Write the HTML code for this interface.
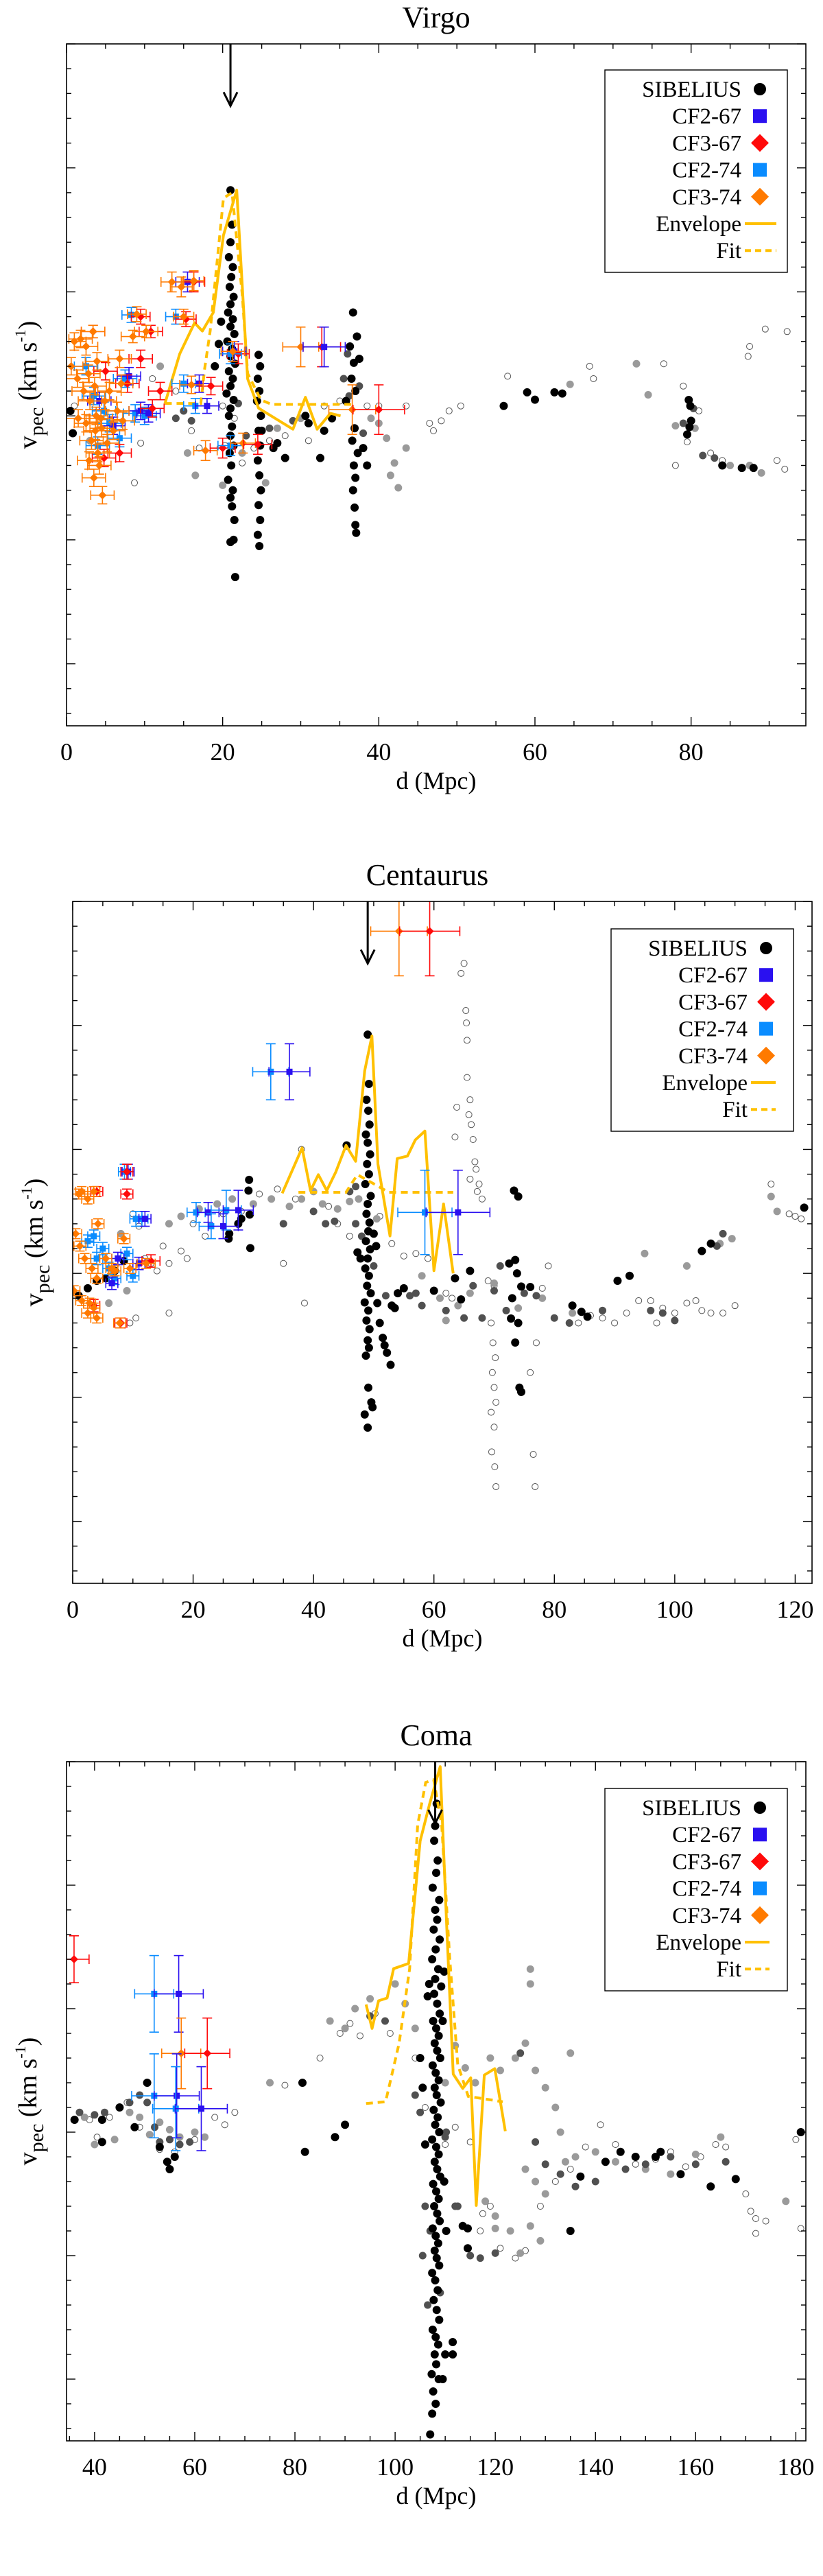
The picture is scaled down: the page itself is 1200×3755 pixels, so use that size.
<!DOCTYPE html>
<html><head><meta charset="utf-8">
<style>
html,body{margin:0;padding:0;background:#fff;}
svg{display:block;font-family:"Liberation Serif",serif;}
</style></head>
<body>
<svg id="fig" width="1200" height="3755" viewBox="0 0 1200 3755" xmlns="http://www.w3.org/2000/svg"></svg>
<script>
// ---------------- DATA ----------------
const virgoTicks=[0,20,40,60,80];
const centTicks=[0,20,40,60,80,100,120];
const comaTicks=[40,60,80,100,120,140,160,180];

const virgoBlack=[[21,910],[21.2,771],[21,700],[20.8,640],[21.3,600],[21.1,560],[20.9,520],[21.4,480],[21,450],[20.7,417],[21.3,390],[21,360],[21.5,330],[20.6,300],[21.2,270],[21,240],[21.6,210],[20.8,180],[21.3,150],[21,120],[20.5,90],[21.4,64],[21,30],[20.8,0],[21.2,-43],[21,-80],[21.4,-120],[20.9,-150],[21.1,-200],[20.7,-258],[21.3,-300],[21,-330],[21.2,-365],[21.5,-420],[21,-509],[21.4,-500],[21.6,-650],[24.6,246],[24.8,200],[24.5,150],[24.7,100],[24.4,60],[24.9,0],[24.6,-60],[24.8,-120],[24.5,-180],[24.7,-240],[24.9,-300],[24.6,-360],[24.8,-420],[24.5,-480],[24.7,-525],[36.7,417],[37.2,320],[36.3,280],[37.5,230],[36.8,214],[36.5,150],[37,100],[35.8,60],[36.9,-50],[36.6,-100],[37.3,-150],[36.8,-200],[37,-250],[36.7,-300],[36.9,-370],[37,-440],[37.1,-472],[38.5,-200],[38,-130],[34,-10],[30.6,0],[31,-30],[28,-170],[26.5,-130],[27,-110],[32.5,-170],[33,-60],[25,-60],[19.5,290],[19,200],[19.8,380],[56,40],[59,95],[60,65],[62.5,95],[63.5,90],[79.7,64],[79.9,40],[80,-20],[79.5,-75],[79.8,-45],[86.5,-210],[88,-210],[84,-200],[0.5,20],[0.8,-70]];
const virgoDark=[[36,250],[35.5,150],[37.5,120],[36.2,80],[38,-70],[15,20],[16,-20],[14,-10],[22,50],[23,-80],[26,-50],[29,-20],[80.3,30],[81.5,-160],[83,-170],[79,-30]];
const virgoGrey=[[10.5,20],[12,200],[15.5,-150],[16.5,-240],[20,-280],[22.5,-150],[25.5,-270],[27,-50],[30,-10],[39,-10],[40,-30],[41,-90],[42,-190],[41.5,-240],[42.5,-290],[43.5,-130],[64.5,127],[73,210],[74.5,85],[85,-200],[87.5,-200],[78,-40],[80.5,-50],[89,-230],[3,-100]];
const virgoOpen=[[1,40],[9.5,-110],[8.7,-270],[11,150],[14,100],[16,-60],[17,-130],[20,40],[21.5,-10],[20.3,-120],[22.5,-190],[24,-130],[26,-100],[28,-80],[31,-100],[33,40],[35,60],[38.5,40],[40,40],[43.5,40],[46.5,-30],[47,-60],[48,-20],[49,20],[50.5,40],[56.5,160],[67,200],[67.5,150],[76.5,210],[79,120],[79.5,-105],[78,-200],[84,-180],[87.5,280],[87.3,240],[89.5,350],[92.3,340],[92,-215],[91,-180],[81,20],[82.5,-150]];
// [d, v, dErr, vErr, type] type: 0 CF2-67, 1 CF3-67, 2 CF2-74, 3 CF3-74
const virgoCF=[[15.5,540,1.5,40,0],[16.3,540,1.4,40,1],[13.5,540,1.4,40,3],[14.7,520,1.4,40,3],[16.3,545,1.3,40,3],[8.3,407,1.2,30,2],[9.5,400,1.2,30,1],[9,410,1.2,30,3],[14,400,1.3,30,2],[15.3,390,1.3,30,1],[15,400,1.3,30,3],[3.4,340,1.5,25,1],[3.4,340,1.5,25,3],[10.8,340,1.5,25,1],[10.2,340,1.5,25,3],[8.5,320,1.5,25,3],[21.5,260,1.5,40,0],[22,250,1.4,40,1],[21,250,1.4,40,2],[21.3,260,1.5,40,3],[15,130,1.5,35,2],[17,130,1.5,35,0],[18.5,120,1.5,35,1],[16,125,1.5,35,3],[16.5,40,1.5,30,2],[18,40,1.5,30,0],[17.8,-140,1.5,40,3],[20,-130,1.6,40,1],[21,-120,1.6,40,2],[22.6,-110,1.6,40,3],[24.5,-115,1.8,40,1],[30,278,2.3,80,3],[32.7,278,2.4,80,1],[33,278,2.7,80,0],[36.6,25,3,100,3],[40,25,3.3,100,1],[2.5,200,1.5,35,2],[3.5,80,1.5,35,2],[4.8,20,1.5,35,2],[5.5,-30,1.5,35,2],[6.8,-90,1.5,35,2],[7.5,150,1.5,35,2],[8.8,10,1.5,35,2],[10,0,1.5,35,2],[4,-120,1.5,35,2],[4.2,60,1.5,35,0],[6,-40,1.5,35,0],[9.5,20,1.5,35,0],[10.5,10,1.5,35,0],[8,160,1.5,35,0],[5,180,1.5,35,1],[7.8,130,1.5,35,1],[9.5,230,1.5,35,1],[11,30,1.5,35,1],[12,100,1.5,35,1],[4.8,-170,1.5,35,1],[6.8,-150,1.5,35,1],[1,300,1.5,35,3],[1.8,310,1.5,35,3],[2.5,280,1.5,35,3],[0.6,200,1.5,35,3],[1.4,150,1.5,35,3],[2.2,100,1.5,35,3],[3,60,1.5,35,3],[3.8,0,1.5,35,3],[4.5,-50,1.5,35,3],[3.2,-100,1.5,35,3],[4,-150,1.5,35,3],[4.2,-200,1.5,35,3],[3.5,-250,1.5,35,3],[4.6,-320,1.5,35,3],[2.8,170,1.5,35,3],[3.6,120,1.5,35,3],[4.9,60,1.5,35,3],[5.5,100,1.5,35,3],[6.5,20,1.5,35,3],[7.2,-20,1.5,35,3],[6,-60,1.5,35,3],[2.5,-30,1.5,35,3],[1.5,-10,1.5,35,3],[3.9,220,1.5,35,3],[5.2,-110,1.5,35,3],[4.4,-10,1.5,35,3],[7,130,1.5,35,3],[6.8,230,1.5,35,3],[2.9,-180,1.5,35,3],[3.7,-60,1.5,35,3]];
const virgoEnvD=[12.6,14.5,16.4,17.4,18.8,20.1,21.8,23.2,24.6,29,30.6,32.1,33.8,35.1];
const virgoEnvV=[49,250,375,342,417,728,910,149,31,-54,75,-54,10,0];
const virgoFitD=[12.6,17.2,17.7,18.4,20.1,21.2,22.5,23.2,24.9,26.3,36.5];
const virgoFitV=[50,50,192,342,878,900,492,171,64,46,46];

const centBlack=[[49,963],[49.2,764],[48.8,700],[49.1,656],[49.3,600],[48.7,560],[49,527],[49.4,480],[48.9,441],[49.2,400],[48.6,360],[49.5,312],[49,280],[48.8,240],[49.3,205],[49.1,170],[48.7,130],[49.4,97],[49,60],[48.6,20],[49.2,-10],[48.9,-50],[49.5,-80],[48.5,-117],[49.1,-150],[48.8,-190],[49.3,-225],[49,-270],[48.7,-332],[49.2,-300],[49.1,-461],[48.5,-569],[49.6,-520],[49.8,-540],[49,-622],[47.3,85],[47.8,60],[50.6,-120],[51,-200],[51.5,-260],[52.2,-320],[52.8,-369],[51.8,-290],[53,-130],[53.5,-140],[45.5,516],[50,160],[50.4,110],[29.3,377],[29.2,334],[29.4,237],[29.5,102],[28,220],[27.5,200],[25.9,140],[26,160],[73.3,334],[74,310],[73.5,54],[72.5,40],[73.8,0],[74.5,-53],[73,-100],[72.8,-182],[74,-200],[73.5,-279],[74.2,-461],[74.5,-478],[76,-55],[83,-130],[84.5,-155],[85.5,-175],[90.5,-30],[92.5,-10],[104.5,90],[106,120],[121.5,265],[1,-90],[2.5,-60],[4,-30],[5.5,-20],[7,10],[8.5,50],[55,-60],[54,-80],[64.5,-105],[66,10],[63.5,-20],[60,-70]];
const centDark=[[47,200],[48,150],[50,30],[52,-90],[56,-90],[57,-80],[58,-130],[62,-150],[65,-180],[66.5,-50],[68,-180],[70,-70],[71,30],[72,-150],[75,-80],[77,-90],[80,-180],[82.5,-200],[88,-150],[96,-150],[98,-160],[107,110],[108,160],[100,-190],[47,350],[46,330],[40,250],[42,200],[43.5,210],[35,200]];
const centGrey=[[16,200],[18,230],[21,260],[24,280],[26.5,300],[30,280],[33,300],[36,270],[38,300],[40,330],[41.5,280],[44,260],[46,290],[47.5,300],[50.5,220],[58,-10],[61,-100],[62,-190],[64,-130],[66,-80],[70,-40],[74,-140],[78,-100],[83,-160],[88,-150],[95,80],[102,30],[107.5,120],[109.5,140],[116,310],[117,250],[6,-120],[9,-70],[8,160]];
const centOpen=[[22,150],[20,200],[18,90],[19,60],[16,40],[15,110],[25,240],[28,250],[31,320],[34,340],[35,40],[37,300],[38.5,-120],[38,500],[42.5,270],[44,200],[46,150],[51,230],[53,120],[55,70],[57,80],[59,60],[62,-80],[63,-100],[63.5,550],[63.8,670],[64.5,1210],[65,1250],[65.3,1060],[65.4,1010],[65.5,940],[65.5,790],[66,700],[65.8,640],[66.2,600],[66.5,540],[66,380],[67,420],[67.5,360],[66.8,450],[67.2,330],[68,300],[69,-30],[70,-50],[69.5,-200],[69.8,-280],[70.2,-340],[69.7,-400],[70,-460],[70.3,-520],[69.5,-560],[70,-620],[69.6,-720],[70.1,-780],[70.3,-860],[76.5,-730],[76.8,-860],[76,-400],[77,-280],[78,-60],[79,30],[84,-200],[86,-170],[88,-180],[90,-200],[92,-160],[94,-110],[96,-110],[97,-200],[98,-140],[100,-160],[102,-120],[103.5,-110],[104.5,-150],[106,-160],[108,-160],[110,-130],[116,360],[119,240],[120,230],[121,220],[10,240],[11,190],[10.5,-180],[9.5,-200],[13,40],[14,10],[12,60],[16,-160]];
const centCF=[[32.9,813,3,113,2],[36,813,3.4,113,0],[54.2,1380,4.7,180,3],[59.3,1380,5,180,1],[58.5,246,4.5,170,2],[64,246,5.3,170,0],[20.5,246,1.5,40,2],[22.5,246,1.8,40,0],[25.5,255,2.5,80,2],[27.5,255,2.5,80,0],[23,190,2,50,2],[25,190,2.5,50,0],[8.6,410,1,30,2],[9.2,410,1,30,0],[9,410,1,30,1],[9,320,1,20,1],[10.5,220,1,30,2],[11.5,220,1,30,2],[12,220,1,30,0],[2.5,130,1,25,2],[3.5,150,1,25,2],[5,100,1,25,2],[4,60,1,25,2],[6,20,1,25,2],[7,-20,1,25,2],[9,80,1,25,2],[10,-10,1,25,2],[7.5,60,1,25,0],[11,40,1,25,0],[6.5,-40,1,25,0],[4,330,1,20,1],[13,50,1.5,25,1],[3.5,-130,1,25,1],[8,-200,1,20,1],[1,320,1,20,3],[1.5,330,1,20,3],[3.5,330,1,20,3],[2.5,300,1,20,3],[4.2,200,1,20,3],[0.5,160,1,20,3],[1.2,110,1,20,3],[2,60,1,20,3],[3.2,20,1,20,3],[4,-20,1,20,3],[0.2,-70,1,20,3],[1.5,-110,1,20,3],[2.8,-120,1,20,3],[3.5,-140,1,20,3],[2.5,-160,1,20,3],[4,-180,1,20,3],[7.8,-200,1,20,3],[6.5,20,1,20,3],[5.5,60,1,20,3],[8.5,140,1,20,3],[9.5,20,1,20,3],[7,10,1,20,3],[12.2,40,1.5,20,3]];
const centEnvD=[34.8,38.1,39.5,40.8,42.2,43.7,45.4,47,48.5,49.7,50.7,52.7,53.9,55.6,56.9,58.5,60,61.6,63.2];
const centEnvV=[323,506,334,398,334,409,516,452,817,957,441,151,463,473,538,574,11,280,0];
const centFitD=[37.5,45.4,46.8,47.3,52.5,63.2];
const centFitV=[327,327,380,398,327,327];

const comaBlack=[[108.3,1330],[108,1240],[107.8,1180],[108.5,1100],[108.2,1050],[107.5,990],[108.8,940],[108,900],[108.4,860],[107.7,820],[108.9,780],[108.1,740],[107.4,700],[108.6,660],[108,620],[109.2,590],[107.8,560],[108.4,520],[108.9,480],[107.6,450],[108.2,420],[108.7,390],[107.9,360],[108.4,330],[109,300],[107.5,270],[108.1,240],[108.7,210],[107.9,180],[108.3,150],[109.1,120],[107.7,90],[108.5,60],[108,30],[108.8,0],[107.4,-30],[108.2,-60],[108.7,-90],[107.9,-120],[108.4,-150],[109,-180],[107.6,-210],[108.2,-240],[108.7,-270],[107.8,-300],[108.4,-330],[108.9,-360],[107.5,-390],[108.1,-420],[108.6,-450],[107.9,-480],[108.3,-510],[108.8,-540],[107.4,-570],[108,-600],[108.5,-640],[107.7,-680],[108.3,-720],[108.8,-760],[107.5,-800],[108.1,-830],[108.6,-860],[107.9,-900],[108.2,-940],[107.3,-980],[108.7,-1000],[107.6,-1050],[108.1,-1100],[107.4,-1140],[107,-1224],[109.5,-1000],[110,-900],[111.5,-850],[113.5,-380],[114.5,-390],[114.5,-470],[111.5,-900],[109.8,650],[109.5,450],[106.8,600],[106.5,550],[105.5,180],[105,300],[106,-50],[109.8,-200],[110.2,-400],[36,50],[41.5,50],[41.5,-40],[48,20],[53,-60],[54.5,-120],[55,-150],[56,-100],[88,-20],[90,30],[82,-80],[81.5,200],[135,-400],[137,-180],[142,-120],[148,-100],[152,-100],[153,-80],[157,-170],[163,-220],[168,-190],[181,0],[145,-80],[45,100],[50.5,200]];
const comaDark=[[37,80],[40,70],[42,80],[45,100],[47,120],[49,150],[50.5,120],[52,20],[53,-40],[55,-30],[57,-50],[59,-40],[104,150],[105,80],[110,-20],[112,-300],[112.5,-300],[115,-500],[117,-510],[120,-490],[125,320],[128,-40],[130,-130],[133,-170],[136,-220],[140,-200],[146,-150],[150,-130],[155,-100],[160,-130],[166,-120],[98,450],[95,470],[106,-300],[107,-400],[106.5,-700],[109,-650],[110.2,0],[105.5,-500]];
const comaGrey=[[38,60],[40,-50],[44,-30],[47,80],[49,60],[51,-10],[53,40],[55,10],[57,-20],[60,0],[62,-20],[75,200],[87,450],[90,420],[92,500],[95,540],[100,600],[102,520],[104,420],[110,200],[112,350],[114,260],[116,200],[119,300],[121,250],[124,300],[126,360],[127,600],[128,250],[130,180],[132,100],[133,0],[134,-120],[130,-250],[127,-380],[125,-490],[123,-400],[120,-340],[118,-280],[129,-440],[136,-100],[140,-80],[144,-120],[150,-150],[155,-170],[160,-90],[165,-20],[178,-280],[127,660],[135,320],[126,-150],[128,-200],[120,-390]];
const comaOpen=[[39,50],[40.5,-20],[43,60],[46.5,120],[49,20],[53,-70],[56,-80],[60,-30],[64,60],[66,30],[68,80],[78,190],[85,300],[89,400],[91,440],[93,390],[96,480],[99,400],[104,300],[106,100],[110,-50],[112,20],[115,-40],[119,-300],[117.5,-330],[121,-470],[124,-510],[126,-480],[129,-300],[132,-200],[135,-150],[138,-60],[141,30],[144,-50],[148,-130],[152,-110],[155,-80],[158,-140],[161,-100],[164,-50],[166,-60],[171,-320],[172,-350],[174,-360],[172,-410],[181,-390],[180,-30],[170,-250],[117,-400]];
const comaCF=[[35.9,700,3,95,1],[51.9,560,3.9,155,2],[56.8,560,4.9,155,0],[57.3,319,3.9,143,3],[62.5,319,4.5,143,1],[51.9,147,4.5,170,2],[56.4,147,4.5,170,0],[56.2,95,4.6,170,2],[61.3,95,5.2,170,0]];
const comaEnvD=[94.2,95.4,96.7,98.4,99.7,102.7,105,106.9,109,110.3,111.6,113.5,115.1,116.2,117.8,119.9,122];
const comaEnvV=[517,420,532,543,662,683,1179,1330,1480,834,235,177,220,-297,231,257,4];
const comaFitD=[94.2,98.1,100.8,102.9,104.5,106.1,107.7,109.3,110.9,112.5,114.6,121.5];
const comaFitV=[116,123,360,662,1244,1416,1427,1244,705,274,145,123];

const cfColors=['#2a10f0','#ff0a0a','#0a8cff','#ff7a00'];
const NS='http://www.w3.org/2000/svg';
const svg=document.getElementById('fig');
function mk(tag,attrs,parent){const e=document.createElementNS(NS,tag);for(const k in attrs)e.setAttribute(k,attrs[k]);(parent||svg).appendChild(e);return e;}

function panel(cfg){
  const g=mk('g',{});
  
  
  const X=d=>cfg.left+(d-cfg.xmin)/(cfg.xmax-cfg.xmin)*(cfg.right-cfg.left);
  const Y=v=>cfg.top+(1500-v)/2750*(cfg.bottom-cfg.top);
  const clip='clip-'+cfg.name;
  const cp=mk('clipPath',{id:clip},g);
  mk('rect',{x:cfg.left,y:cfg.top,width:cfg.right-cfg.left,height:cfg.bottom-cfg.top},cp);
  const plot=mk('g',{'clip-path':'url(#'+clip+')'},g);
  
  
  const groups=[[cfg.open,'#fff','#555',4.5,'open-halo'],[cfg.grey,'#9a9a9a','#9a9a9a',5,'light-grey-halo'],[cfg.dark,'#505050','#505050',5,'dark-grey-halo'],[cfg.black,'#000','#000',5.5,'sibelius']];
  groups.forEach(gr=>{
    const sg=mk('g',{},plot);
    
    
    gr[0].forEach(p=>{
      const c=mk('circle',{cx:X(p[0]),cy:Y(p[1]),r:gr[3],fill:gr[1],stroke:gr[2],'stroke-width':1},sg);
      
      
    });
  });
  const env=mk('polyline',{points:cfg.envD.map((d,i)=>X(d)+','+Y(cfg.envV[i])).join(' '),fill:'none',stroke:'#ffc000','stroke-width':4,'stroke-linejoin':'round'},plot);
  
  
  const fit=mk('polyline',{points:cfg.fitD.map((d,i)=>X(d)+','+Y(cfg.fitV[i])).join(' '),fill:'none',stroke:'#ffc000','stroke-width':4,'stroke-dasharray':'10 7'},plot);
  
  
  const cg=mk('g',{},plot);
  
  
  cfg.cf.forEach(p=>{
    const col=cfColors[p[4]];
    const x=X(p[0]),y=Y(p[1]),x0=X(p[0]-p[2]),x1=X(p[0]+p[2]),y0=Y(p[1]-p[3]),y1=Y(p[1]+p[3]);
    const e=mk('g',{stroke:col,'stroke-width':1.6,fill:col},cg);
    
    
    mk('line',{x1:x0,y1:y,x2:x1,y2:y},e);
    mk('line',{x1:x,y1:y0,x2:x,y2:y1},e);
    mk('line',{x1:x0,y1:y-7,x2:x0,y2:y+7},e);
    mk('line',{x1:x1,y1:y-7,x2:x1,y2:y+7},e);
    mk('line',{x1:x-7,y1:y0,x2:x+7,y2:y0},e);
    mk('line',{x1:x-7,y1:y1,x2:x+7,y2:y1},e);
    if(p[4]%2===0) mk('rect',{x:x-4.5,y:y-4.5,width:9,height:9,stroke:'none'},e);
    else mk('polygon',{points:`${x},${y-6} ${x+6},${y} ${x},${y+6} ${x-6},${y}`,stroke:'none'},e);
  });
  const ax=X(cfg.arrow),ay=Y(1250);
  const ar=mk('g',{stroke:'#000','stroke-width':3,fill:'none'},g);
  
  
  mk('line',{x1:ax,y1:cfg.top,x2:ax,y2:ay},ar);
  mk('polyline',{points:`${ax-10},${ay-20} ${ax},${ay} ${ax+10},${ay-20}`},ar);
  const fr=mk('rect',{x:cfg.left,y:cfg.top,width:cfg.right-cfg.left,height:cfg.bottom-cfg.top,fill:'none',stroke:'#000','stroke-width':1.6},g);
  
  
  const tk=mk('g',{stroke:'#000','stroke-width':1.4},g);
  
  
  for(let d=Math.ceil(cfg.xmin/5)*5; d<=cfg.xmax; d+=5){
    const L=(d%20===0)?13:7, x=X(d);
    mk('line',{x1:x,y1:cfg.bottom,x2:x,y2:cfg.bottom-L},tk);
    mk('line',{x1:x,y1:cfg.top,x2:x,y2:cfg.top+L},tk);
  }
  for(let v=-1200; v<=1500; v+=100){
    const L=(v%500===0)?13:7, y=Y(v);
    mk('line',{x1:cfg.left,y1:y,x2:cfg.left+L,y2:y},tk);
    mk('line',{x1:cfg.right,y1:y,x2:cfg.right-L,y2:y},tk);
  }
  cfg.ticks.forEach(t=>{
    const tx=mk('text',{x:X(t),y:cfg.bottom+50,'font-size':36,'text-anchor':'middle'},g);
    tx.textContent=t;
    
    
  });
  const xl=mk('text',{x:(cfg.left+cfg.right)/2,y:cfg.bottom+92,'font-size':36,'text-anchor':'middle'},g);
  xl.textContent='d (Mpc)';
  
  
  const tt=mk('text',{x:(cfg.left+cfg.right)/2+(cfg.titleDx||0),y:cfg.top-24,'font-size':44,'text-anchor':'middle'},g);
  tt.textContent=cfg.title;
  
  
  const cy=(cfg.top+cfg.bottom)/2;
  const yl=mk('text',{x:0,y:0,'font-size':38,'text-anchor':'middle',transform:`translate(${cfg.left-44},${cy}) rotate(-90)`},g);
  
  
  yl.innerHTML='v<tspan font-size="30" dy="10">pec</tspan><tspan dy="-10"> (km s</tspan><tspan font-size="22" dy="-16">-1</tspan><tspan dy="16">)</tspan>';
  const lx=cfg.legX, ly=cfg.legY;
  const lg=mk('g',{},g);
  
  
  mk('rect',{x:lx,y:ly,width:266,height:295,fill:'#fff',stroke:'#000','stroke-width':1.4},lg);
  const names=['SIBELIUS','CF2-67','CF3-67','CF2-74','CF3-74','Envelope','Fit'];
  names.forEach((n,i)=>{
    const yy=ly+28+i*39.2;
    const t=mk('text',{x:lx+199,y:yy+11,'font-size':33,'text-anchor':'end'},lg);
    t.textContent=n;
    
    
    const mx=lx+226;
    if(i===0) mk('circle',{cx:mx,cy:yy,r:9,fill:'#000'},lg);
    else if(i<5){const col=cfColors[i-1];
      if(i%2===1) mk('rect',{x:mx-10,y:yy-10,width:20,height:20,fill:col},lg);
      else mk('polygon',{points:`${mx},${yy-13} ${mx+13},${yy} ${mx},${yy+13} ${mx-13},${yy}`,fill:col},lg);}
    else mk('line',{x1:lx+204,y1:yy,x2:lx+204+cfg.legLine,y2:yy,stroke:'#ffc000','stroke-width':4,'stroke-dasharray':i===6?'9 6':'none'},lg);
  });
}

panel({name:'virgo',title:'Virgo',left:97,right:1175,top:64,bottom:1058,xmin:0,xmax:94.7,ticks:virgoTicks,black:virgoBlack,dark:virgoDark,grey:virgoGrey,open:virgoOpen,cf:virgoCF,envD:virgoEnvD,envV:virgoEnvV,fitD:virgoFitD,fitV:virgoFitV,arrow:21,legX:882,legY:102,legLine:46});
panel({name:'centaurus',title:'Centaurus',left:106,right:1184,top:1314,bottom:2308,xmin:0,xmax:122.8,ticks:centTicks,black:centBlack,dark:centDark,grey:centGrey,open:centOpen,cf:centCF,envD:centEnvD,envV:centEnvV,fitD:centFitD,fitV:centFitV,arrow:49,legX:891,legY:1354,legLine:36,titleDx:-22});
panel({name:'coma',title:'Coma',left:97,right:1175,top:2568,bottom:3558,xmin:34.4,xmax:182,ticks:comaTicks,black:comaBlack,dark:comaDark,grey:comaGrey,open:comaOpen,cf:comaCF,envD:comaEnvD,envV:comaEnvV,fitD:comaFitD,fitV:comaFitV,arrow:108,legX:882,legY:2607,legLine:36});
</script>
</body></html>
